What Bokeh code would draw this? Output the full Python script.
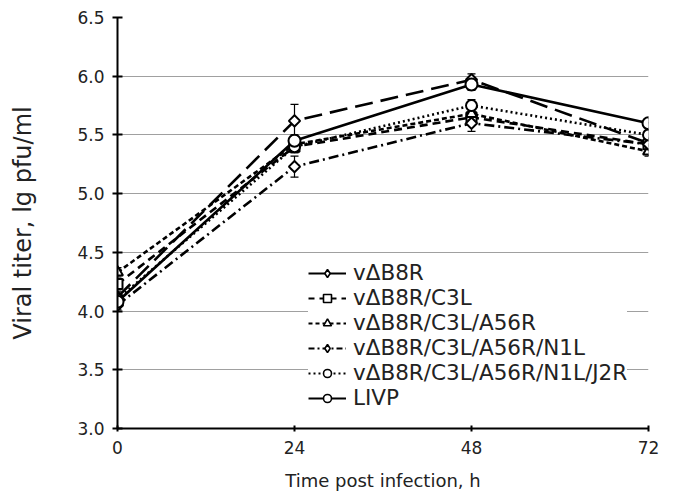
import math
from bokeh.plotting import figure
from bokeh.models import Range1d, FixedTicker, NumeralTickFormatter, Legend, LegendItem, Whisker, ColumnDataSource
from bokeh.embed import file_html
from bokeh.resources import INLINE

hours = [0, 24, 48, 72]
labels = ["v\u0394B8R", "v\u0394B8R/C3L", "v\u0394B8R/C3L/A56R",
          "v\u0394B8R/C3L/A56R/N1L", "v\u0394B8R/C3L/A56R/N1L/J2R", "LIVP"]
b8r = [4.12, 5.62, 5.97, 5.43]
c3l = [4.23, 5.40, 5.65, 5.42]
a56r = [4.33, 5.42, 5.68, 5.36]
n1l = [4.05, 5.23, 5.60, 5.42]
j2r = [4.10, 5.40, 5.75, 5.50]
livp = [4.08, 5.45, 5.93, 5.60]
b8r_err = [0.05, 0.14, 0.05, 0.04]
c3l_err = [0.04, 0.05, 0.05, 0.04]
a56r_err = [0.04, 0.05, 0.05, 0.04]
n1l_err = [0.04, 0.09, 0.07, 0.04]
j2r_err = [0.04, 0.05, 0.05, 0.04]
livp_err = [0.04, 0.05, 0.05, 0.04]
y_ticks = [3.0, 3.5, 4.0, 4.5, 5.0, 5.5, 6.0, 6.5]
x_ticks = [0, 24, 48, 72]

series = [b8r, c3l, a56r, n1l, j2r, livp]
errs = [b8r_err, c3l_err, a56r_err, n1l_err, j2r_err, livp_err]
dashes = ["18 8", "8 5", "5 3", "10 4 2 4", "2 3", "solid"]
leg_dashes = ["solid", "6 5", "4 3", "6 3 2 3", "2 3", "solid"]
markers = ["square", "square", "triangle", "square", "circle", "circle"]
leg_markers = ["diamond", "square", "triangle", "diamond", "circle", "circle"]
angles = [math.pi / 4, 0, 0, math.pi / 4, 0, 0]
msizes = [8, 10, 11, 8, 11, 12]
lsizes = [9, 7, 8, 9, 8, 8]

FONT = "DejaVu Sans"
p = figure(width=667, height=493, output_backend="svg", toolbar_location=None,
           x_range=Range1d(0, 72), y_range=Range1d(3.0, 6.5),
           min_border_left=117, min_border_right=19, min_border_top=17, min_border_bottom=65)
p.outline_line_color = None
p.xgrid.grid_line_color = None
p.ygrid.grid_line_color = "#a0a0a0"
p.ygrid.grid_line_width = 1.2
p.ygrid.ticker = FixedTicker(ticks=y_ticks)

p.yaxis.ticker = FixedTicker(ticks=y_ticks)
p.xaxis.ticker = FixedTicker(ticks=x_ticks)
p.yaxis.formatter = NumeralTickFormatter(format="0.0")
for ax in (p.xaxis, p.yaxis):
    ax.axis_line_width = 2
    ax.axis_line_color = "black"
    ax.major_tick_line_width = 2
    ax.major_tick_in = 5
    ax.major_tick_out = 5
    ax.minor_tick_line_color = None
    ax.major_label_text_font = FONT
    ax.major_label_text_font_size = "17px"
    ax.major_label_text_color = "#222222"
    ax.axis_label_text_font = FONT
    ax.axis_label_text_font_style = "normal"
    ax.axis_label_text_color = "#222222"
p.xaxis.axis_label_text_font_size = "18px"
p.yaxis.axis_label_text_font_size = "24px"
p.xaxis.major_tick_in = 3
p.xaxis.major_tick_out = 3
p.xaxis.axis_label = "Time post infection, h"
p.yaxis.axis_label = "Viral titer, lg pfu/ml"
p.xaxis.major_label_standoff = 9
p.yaxis.major_label_standoff = 8
p.xaxis.axis_label_standoff = 13
p.yaxis.axis_label_standoff = 37

items = []
for lab, ys, er, dsh, ldsh, mk, lmk, ang, ms, ls in zip(labels, series, errs, dashes, leg_dashes,
                                                       markers, leg_markers, angles, msizes, lsizes):
    src = ColumnDataSource(dict(x=hours, y=ys,
                                lo=[a - b for a, b in zip(ys, er)],
                                hi=[a + b for a, b in zip(ys, er)]))
    w = Whisker(source=src, base="x", lower="lo", upper="hi", line_color="black", line_width=1.2)
    w.upper_head.size = 8
    w.lower_head.size = 8
    w.upper_head.line_width = 1.2
    w.lower_head.line_width = 1.2
    p.add_layout(w)
    p.line("x", "y", source=src, line_color="black", line_width=2.6, line_dash=dsh)
    p.scatter("x", "y", source=src, marker=mk, angle=ang, size=ms, fill_color="white",
              line_color="black", line_width=2)
    # hidden legend proxies sharing the same data, drawn only as legend samples
    pl = p.line("x", "y", source=src, line_color="black", line_width=2, line_dash=ldsh, visible=False)
    pm = p.scatter("x", "y", source=src, marker=lmk, size=ls, fill_color="white",
                   line_color="black", line_width=1.6, visible=False)
    items.append(LegendItem(label=lab, renderers=[pl, pm]))

legend = Legend(items=items, location=(191, 18), glyph_width=38, glyph_height=20,
                label_height=20, spacing=0, padding=12, margin=0, label_standoff=7,
                label_text_font=FONT, label_text_font_size="21.5px", label_text_color="#222222",
                background_fill_color="white", background_fill_alpha=1.0,
                inactive_fill_alpha=0.0,
                border_line_color=None)
p.add_layout(legend, "center")

open("out.html", "w").write(file_html(p, INLINE))
